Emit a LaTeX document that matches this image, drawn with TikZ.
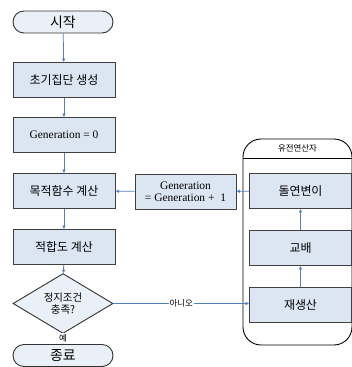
\documentclass[tikz,border=0pt]{standalone}
\usepackage{fontspec}
\setmainfont{Liberation Serif}
\newfontfamily\kr{Noto Sans CJK KR}
\usetikzlibrary{shapes.geometric,arrows.meta}
\definecolor{boxfill}{HTML}{DCE6F2}
\definecolor{linkblue}{HTML}{4F81BD}
\begin{document}
\begin{tikzpicture}[x=1bp,y=-1bp,
                    box/.style={draw=black!75,fill=boxfill,line width=.8bp,minimum width=102bp,minimum height=35bp,inner sep=0pt,font=\kr\fontsize{12}{14}\selectfont},
                    term/.style={draw=black!80,fill=boxfill!60,line width=.9bp,rounded corners=11bp,minimum width=100bp,minimum height=22bp,inner sep=0pt,font=\kr\fontsize{14}{16}\selectfont},
                    decide/.style={diamond,draw=black!80,fill=boxfill!60,line width=.9bp,minimum width=100bp,minimum height=37bp,inner sep=0pt,align=center,font=\kr\fontsize{10.5}{12}\selectfont},
                    link/.style={draw=linkblue,line width=.8bp,-{Latex[length=3.5bp,width=3.5bp]}},
                    lbl/.style={font=\kr\fontsize{8.5}{10}\selectfont,inner sep=1bp}]
 \path[use as bounding box] (0,0) rectangle (352,367);
 % main column
 \node[term] (start) at (63,22) {시작};
 \node[box] (init) at (64,80) {초기집단 생성};
 \node[box,font=\fontsize{11.5}{13}\selectfont] (gen0) at (64,135) {Generation = 0};
 \node[box] (obj) at (64,191) {목적함수 계산};
 \node[box] (fit) at (64,247) {적합도 계산};
 \node[decide] (cond) at (63,303.5) {정지조건\\충족?};
 \node[term] (stop) at (63,355.5) {종료};
 % genetic operators
 \draw[line width=.9bp,rounded corners=18bp] (243,345) -- (243,139) -- (352,139) -- (352,345) -- cycle;
 \draw[line width=.8bp] (243,158) -- (352,158);
 \node[font=\kr\fontsize{8.5}{10}\selectfont] (ops) at (297.5,148) {유전연산자};
 \node[box] (mut) at (300.5,191) {돌연변이};
 \node[box] (cross) at (300.5,248) {교배};
 \node[box] (regen) at (300.5,305) {재생산};
 \node[box,minimum width=101bp,align=center,font=\fontsize{11.5}{12.5}\selectfont] (inc) at (185.5,191.5) {Generation\\= Generation +~~1};
 % connectors
 \draw[link] (start) -- (init);
 \draw[link] (init) -- (gen0);
 \draw[link] (gen0) -- (obj);
 \draw[link] (obj) -- (fit);
 \draw[link] (fit) -- (cond);
 \draw[link] (cond) -- node[lbl,fill=white,pos=.4]{예} (stop);
 \draw[link] (cond) -- node[lbl,fill=white]{아니오} (regen.west|-cond);
 \draw[link] (regen) -- (cross);
 \draw[link] (cross) -- (mut);
 \draw[link] (mut) -- (inc);
 \draw[link] (inc) -- (obj);
\end{tikzpicture}
\end{document}
